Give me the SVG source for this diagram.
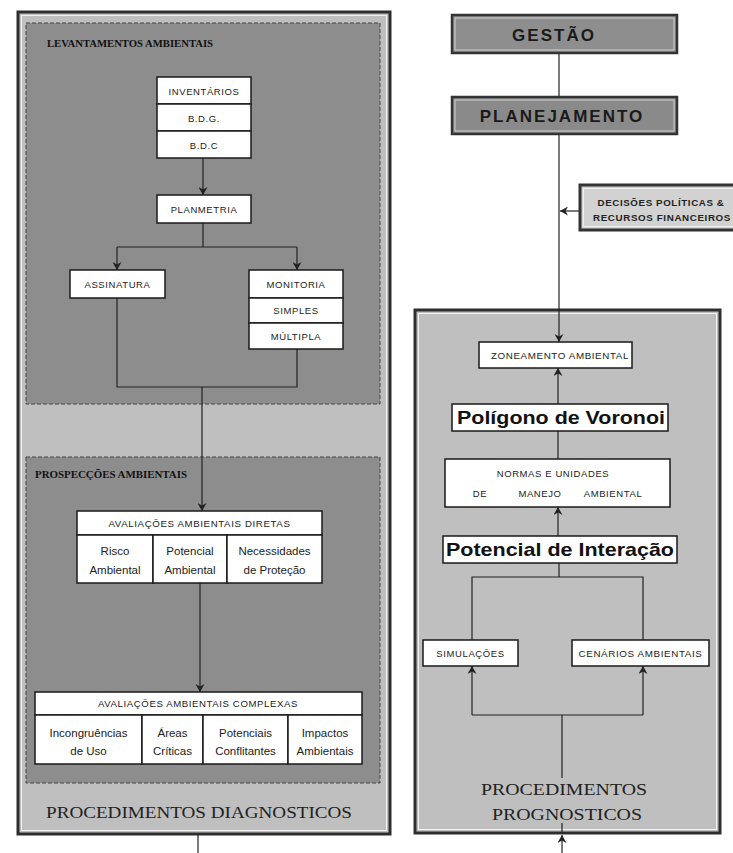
<svg xmlns="http://www.w3.org/2000/svg" width="733" height="853" viewBox="0 0 733 853">
<style>
.frame{fill:#bfbfbf;stroke:#2e2e2e;stroke-width:3}
.inner{fill:none;stroke:#f2f2f2;stroke-width:1}
.panel{fill:#8d8d8d;stroke:#444;stroke-width:1;stroke-dasharray:4 2}
.box{fill:#fff;stroke:#1a1a1a;stroke-width:1.5}
.ln{fill:none;stroke:#222;stroke-width:1.2}
.lbl{font-family:"Liberation Sans",Arial,sans-serif;font-size:9.5px;fill:#222;text-anchor:middle;letter-spacing:0.6px}
.cell{font-family:"Liberation Sans",Arial,sans-serif;font-size:11.5px;fill:#222;text-anchor:middle}
.big{font-family:"Liberation Sans",Arial,sans-serif;font-size:19px;font-weight:bold;fill:#111;text-anchor:middle}
.head{font-family:"Liberation Sans",Arial,sans-serif;font-size:17px;font-weight:bold;fill:#1a1a1a;text-anchor:middle;letter-spacing:2px}
.ser{font-family:"Liberation Serif","Times New Roman",serif;fill:#222;text-anchor:middle}
.sec{font-family:"Liberation Serif","Times New Roman",serif;font-size:10px;font-weight:bold;fill:#111}
</style>
<defs>
<marker id="arr" markerUnits="userSpaceOnUse" markerWidth="9" markerHeight="9" refX="8" refY="4.5" orient="auto">
<path d="M0,0 L8,4.5 L0,9 L2.5,4.5 z" fill="#222"/>
</marker>
</defs>

<rect width="733" height="853" fill="#fff"/>

<!-- Left frame -->
<g id="diagnosticos">
<rect class="frame" x="18" y="12" width="372" height="822"/>
<rect class="inner" x="21.5" y="15.5" width="365" height="815"/>
<rect class="panel" x="26" y="23" width="354" height="381"/>
<rect class="panel" x="26" y="457" width="354" height="326"/>
<text class="sec" x="47" y="47" textLength="166" lengthAdjust="spacingAndGlyphs">LEVANTAMENTOS AMBIENTAIS</text>
<text class="sec" x="35" y="478" textLength="152" lengthAdjust="spacingAndGlyphs">PROSPECÇÕES AMBIENTAIS</text>
<text class="ser" x="199" y="818" font-size="17" textLength="306" lengthAdjust="spacingAndGlyphs">PROCEDIMENTOS DIAGNOSTICOS</text>
</g>

<!-- Right frame -->
<g id="prognosticos">
<rect class="frame" x="415" y="310" width="305" height="523" fill="#c6c6c6"/>
<rect class="inner" x="418.5" y="313.5" width="298" height="516"/>
<text class="ser" x="564" y="795" font-size="17" textLength="166" lengthAdjust="spacingAndGlyphs">PROCEDIMENTOS</text>
<text class="ser" x="567" y="820" font-size="17" textLength="150" lengthAdjust="spacingAndGlyphs">PROGNOSTICOS</text>
</g>

<!-- Connectors -->
<g id="connectors">
<line class="ln" x1="203" y1="158" x2="203" y2="195" marker-end="url(#arr)"/>
<line class="ln" x1="203" y1="223" x2="203" y2="247"/>
<line class="ln" x1="117" y1="247" x2="297" y2="247"/>
<line class="ln" x1="117" y1="247" x2="117" y2="270" marker-end="url(#arr)"/>
<line class="ln" x1="297" y1="247" x2="297" y2="270" marker-end="url(#arr)"/>
<polyline class="ln" points="117,298 117,387 297,387 297,349"/>
<line class="ln" x1="202" y1="387" x2="202" y2="511" marker-end="url(#arr)"/>
<line class="ln" x1="200" y1="583" x2="200" y2="692" marker-end="url(#arr)"/>
<line class="ln" x1="198" y1="834" x2="198" y2="853"/>

<line class="ln" x1="559" y1="53" x2="559" y2="97"/>
<line class="ln" x1="559" y1="134" x2="559" y2="342" marker-end="url(#arr)"/>
<line class="ln" x1="579" y1="211" x2="560" y2="211" marker-end="url(#arr)"/>
<line class="ln" x1="558" y1="404" x2="558" y2="368" marker-end="url(#arr)"/>
<line class="ln" x1="558" y1="431" x2="558" y2="459"/>
<line class="ln" x1="558" y1="536" x2="558" y2="507" marker-end="url(#arr)"/>
<line class="ln" x1="559" y1="563" x2="559" y2="577"/>
<polyline class="ln" points="472,640 472,577 643,577 643,640"/>
<polyline class="ln" points="472,715 643,715"/>
<line class="ln" x1="472" y1="715" x2="472" y2="666" marker-end="url(#arr)"/>
<line class="ln" x1="643" y1="715" x2="643" y2="666" marker-end="url(#arr)"/>
<line class="ln" x1="562" y1="715" x2="562" y2="778"/>
<line class="ln" x1="562" y1="823" x2="562" y2="833"/>
<line class="ln" x1="562" y1="853" x2="562" y2="835" marker-end="url(#arr)"/>
</g>

<!-- Left nodes -->
<g id="inventarios">
<rect class="box" x="157" y="77" width="94" height="27"/>
<rect class="box" x="157" y="104" width="94" height="27"/>
<rect class="box" x="157" y="131" width="94" height="27"/>
<text class="lbl" x="204" y="95">INVENTÁRIOS</text>
<text class="lbl" x="204" y="122">B.D.G.</text>
<text class="lbl" x="204" y="149">B.D.C</text>
</g>
<g id="planmetria">
<rect class="box" x="157" y="195" width="94" height="28"/>
<text class="lbl" x="204" y="213">PLANMETRIA</text>
</g>
<g id="assinatura">
<rect class="box" x="70" y="270" width="95" height="28"/>
<text class="lbl" x="117.5" y="288">ASSINATURA</text>
</g>
<g id="monitoria">
<rect class="box" x="249" y="270" width="94" height="28"/>
<rect class="box" x="249" y="298" width="94" height="25"/>
<rect class="box" x="249" y="323" width="94" height="26"/>
<text class="lbl" x="296" y="288">MONITORIA</text>
<text class="lbl" x="296" y="314">SIMPLES</text>
<text class="lbl" x="296" y="340">MÚLTIPLA</text>
</g>
<g id="aval-diretas">
<rect class="box" x="77" y="511" width="245" height="24"/>
<rect class="box" x="77" y="535" width="76" height="48"/>
<rect class="box" x="153" y="535" width="74" height="48"/>
<rect class="box" x="227" y="535" width="95" height="48"/>
<text class="lbl" x="199.5" y="527" textLength="182" lengthAdjust="spacingAndGlyphs">AVALIAÇÕES AMBIENTAIS DIRETAS</text>
<text class="cell" x="115" y="555">Risco</text>
<text class="cell" x="115" y="574">Ambiental</text>
<text class="cell" x="190" y="555">Potencial</text>
<text class="cell" x="190" y="574">Ambiental</text>
<text class="cell" x="274.5" y="555">Necessidades</text>
<text class="cell" x="274.5" y="574">de Proteção</text>
</g>
<g id="aval-complexas">
<rect class="box" x="35" y="692" width="327" height="23"/>
<rect class="box" x="35" y="715" width="107" height="49"/>
<rect class="box" x="142" y="715" width="61" height="49"/>
<rect class="box" x="203" y="715" width="85" height="49"/>
<rect class="box" x="288" y="715" width="74" height="49"/>
<text class="lbl" x="198" y="707" textLength="200" lengthAdjust="spacingAndGlyphs">AVALIAÇÕES AMBIENTAIS COMPLEXAS</text>
<text class="cell" x="88.5" y="737">Incongruências</text>
<text class="cell" x="88.5" y="755">de Uso</text>
<text class="cell" x="172.5" y="737">Áreas</text>
<text class="cell" x="172.5" y="755">Críticas</text>
<text class="cell" x="245.5" y="737">Potenciais</text>
<text class="cell" x="245.5" y="755">Conflitantes</text>
<text class="cell" x="325" y="737">Impactos</text>
<text class="cell" x="325" y="755">Ambientais</text>
</g>

<!-- Right nodes -->
<g id="gestao">
<rect x="452" y="15" width="225" height="38" fill="#8e8e8e" stroke="#333" stroke-width="2.5"/>
<rect x="455" y="18" width="219" height="32" fill="none" stroke="#cfcfcf" stroke-width="1"/>
<text class="head" x="554" y="41">GESTÃO</text>
</g>
<g id="planejamento">
<rect x="452" y="97" width="225" height="37" fill="#8a8a8a" stroke="#333" stroke-width="2.5"/>
<rect x="455" y="100" width="219" height="31" fill="none" stroke="#cfcfcf" stroke-width="1"/>
<text class="head" x="562" y="122">PLANEJAMENTO</text>
</g>
<g id="decisoes">
<rect x="580" y="185" width="160" height="45" fill="#d2d2d2" stroke="#333" stroke-width="3"/>
<rect x="583.5" y="188.5" width="153" height="38" fill="none" stroke="#f2f2f2" stroke-width="1"/>
<text class="lbl" x="661" y="206" font-weight="bold" letter-spacing="0" textLength="127" lengthAdjust="spacingAndGlyphs">DECISÕES POLÍTICAS &amp;</text>
<text class="lbl" x="662" y="221" font-weight="bold" letter-spacing="0" textLength="138" lengthAdjust="spacingAndGlyphs">RECURSOS FINANCEIROS</text>
</g>
<g id="zoneamento">
<rect class="box" x="479" y="342" width="153" height="26"/>
<text class="lbl" x="560" y="359" textLength="138" lengthAdjust="spacingAndGlyphs">ZONEAMENTO AMBIENTAL</text>
</g>
<g id="voronoi">
<rect class="box" x="452" y="404" width="216" height="27"/>
<text class="big" x="561" y="424" textLength="208" lengthAdjust="spacingAndGlyphs">Polígono de Voronoi</text>
</g>
<g id="normas">
<rect class="box" x="445" y="459" width="225" height="48"/>
<text class="lbl" x="553" y="477">NORMAS E UNIDADES</text>
<text class="lbl" x="480" y="497">DE</text>
<text class="lbl" x="540" y="497">MANEJO</text>
<text class="lbl" x="613" y="497">AMBIENTAL</text>
</g>
<g id="interacao">
<rect class="box" x="443" y="536" width="234" height="27"/>
<text class="big" x="560" y="556" textLength="228" lengthAdjust="spacingAndGlyphs">Potencial de Interação</text>
</g>
<g id="simulacoes">
<rect class="box" x="423" y="640" width="95" height="26"/>
<text class="lbl" x="470.5" y="657">SIMULAÇÕES</text>
</g>
<g id="cenarios">
<rect class="box" x="572" y="640" width="137" height="26"/>
<text class="lbl" x="640.5" y="657" textLength="124" lengthAdjust="spacingAndGlyphs">CENÁRIOS AMBIENTAIS</text>
</g>
</svg>
